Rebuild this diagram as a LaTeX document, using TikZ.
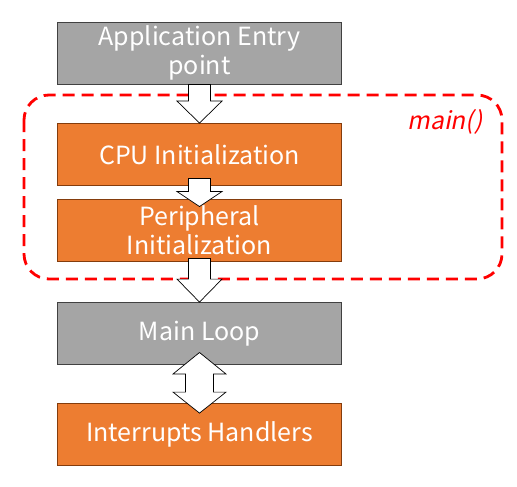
\documentclass[tikz,border=0pt]{standalone}
\usepackage{fontspec}
\setmainfont{Noto Sans CJK KR}
\newfontfamily\italique{Noto Sans CJK KR}[FakeSlant=0.2]
\usetikzlibrary{calc}
\definecolor{cgris}{RGB}{165,165,165}
\definecolor{cbordgris}{RGB}{65,65,65}
\definecolor{corange}{RGB}{237,125,49}
\definecolor{cbrun}{RGB}{132,60,12}
\definecolor{crouge}{RGB}{255,0,0}

\tikzset{
  boite/.style={minimum width=284pt, minimum height=61.5pt, inner sep=0pt,
    align=center, text=white, font=\fontsize{25}{29}\selectfont, line width=0.9pt},
  boitegrise/.style={boite, fill=cgris, draw=cbordgris},
  boiteorange/.style={boite, fill=corange, draw=cbrun},
  fleche/.style={fill=white, draw=black, line width=0.7pt, line join=miter}
}

% fleche blanche : depart, pointe, longueur de la tete
\newcommand{\flechebloc}[3]{%
  \draw[fleche] ($(#1)+(-11,0)$) -- ($(#2)+(-11,-#3)$) -- ($(#2)+(-22.5,-#3)$) -- (#2)
    -- ($(#2)+(22.5,-#3)$) -- ($(#2)+(11,-#3)$) -- ($(#1)+(11,0)$) -- cycle;}

\begin{document}
\begin{tikzpicture}[x=1pt, y=-1pt]
\useasboundingbox (0,0) rectangle (517,487);
% cadre main()
\draw[crouge, line width=2.8pt, dash pattern=on 12pt off 7pt, rounded corners=25pt]
  (24,95) rectangle (502,279);
\node[crouge, font=\italique\fontsize{24.5}{28}\selectfont] (main) at (445,122) {main()};
% boites
\node[boitegrise] (entry) at (199.5,53.25) {Application Entry\\point};
\node[boiteorange] (cpu) at (199.5,154.25) {CPU Initialization};
\node[boiteorange] (periph) at (199.5,230.25) {Peripheral\\Initialization};
\node[boitegrise] (loop) at (199.5,333.3) {Main Loop};
\node[boiteorange] (irq) at (199.5,434.3) {Interrupts Handlers};
% fleches
\coordinate (a2) at ($(cpu.south)+(0,-7)$);
\coordinate (t2) at ($(periph.north)+(0,7.5)$);
\coordinate (a3) at ($(periph.south)+(0,-3)$);
\flechebloc{entry.south}{cpu.north}{22}
\flechebloc{a2}{t2}{15}
\flechebloc{a3}{loop.north}{23}
\coordinate (d1) at ($(loop.south)+(0,-12)$);
\coordinate (d2) at ($(irq.north)+(0,10)$);
\draw[fleche] (d1) -- ($(d1)+(26.5,21.5)$) -- ($(d1)+(14,21.5)$) -- ($(d2)+(14,-21)$)
  -- ($(d2)+(26.5,-21)$) -- (d2) -- ($(d2)+(-26.5,-21)$) -- ($(d2)+(-14,-21)$)
  -- ($(d1)+(-14,21.5)$) -- ($(d1)+(-26.5,21.5)$) -- cycle;
\end{tikzpicture}
\end{document}
